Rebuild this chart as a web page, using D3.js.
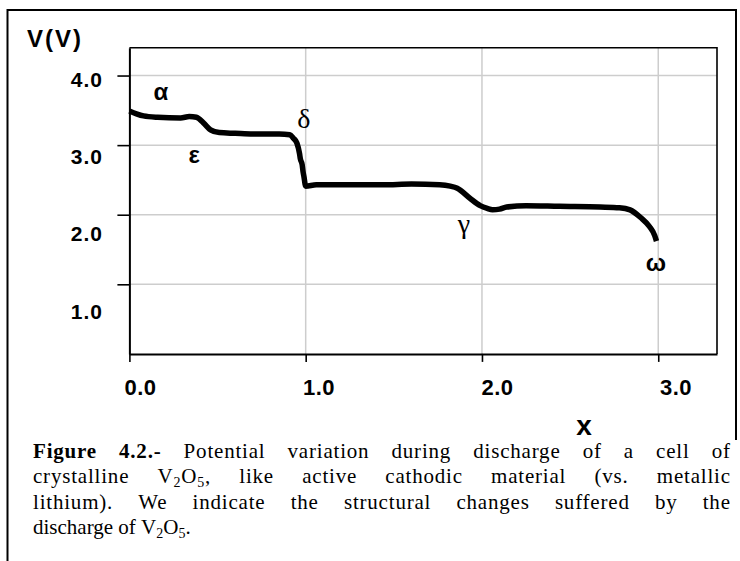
<!DOCTYPE html>
<html>
<head>
<meta charset="utf-8">
<script src="https://cdn.jsdelivr.net/npm/d3@7"></script>
<style>
  body { margin: 0; background: #fff; }
  svg { display: block; }
</style>
</head>
<body>
<svg id="chart" width="740" height="561"></svg>
<script>
// Discharge curve of crystalline V2O5 vs. Li: lithium content x and cell voltage (V)
const lithiumX = [0, 0.04, 0.08, 0.16, 0.29, 0.34, 0.38, 0.42, 0.46, 0.51, 0.6, 0.7, 0.85, 0.91,
  0.93, 0.95, 0.965, 0.97, 0.98, 0.985, 0.99, 1.0, 1.06, 1.2, 1.44, 1.6, 1.76, 1.82, 1.86, 1.93,
  1.99, 2.03, 2.06, 2.1, 2.14, 2.25, 2.44, 2.67, 2.78, 2.84, 2.9, 2.95, 2.98, 2.99];
const voltage = [3.49, 3.45, 3.42, 3.40, 3.39, 3.41, 3.40, 3.32, 3.22, 3.18, 3.17, 3.16, 3.16, 3.15,
  3.10, 3.03, 2.88, 2.80, 2.72, 2.62, 2.55, 2.41, 2.43, 2.43, 2.43, 2.44, 2.43, 2.41, 2.38, 2.24,
  2.13, 2.09, 2.07, 2.08, 2.11, 2.13, 2.12, 2.11, 2.10, 2.07, 1.96, 1.83, 1.70, 1.62];

const xTicks = [0, 1, 2, 3];
const yTicks = [1, 2, 3, 4];
const xTickLabels = ["0.0", "1.0", "2.0", "3.0"];
const yTickLabels = ["1.0", "2.0", "3.0", "4.0"];

// Structural phases and where their symbols sit (data units)
const phaseNames = ["α", "ε", "δ", "γ", "ω"];
const phaseAtX = [0.179, 0.368, 0.990, 1.898, 2.987];
const phaseAtV = [3.648, 2.738, 3.241, 1.737, 1.195];

const captionLines = [
  "Figure 4.2.- Potential variation during discharge of a cell of",
  "crystalline V_2O_5, like active cathodic material (vs. metallic",
  "lithium). We indicate the structural changes suffered by the",
  "discharge of V_2O_5."
];

const SANS = "'Liberation Sans', Arial, Helvetica, sans-serif";
const SERIF = "'Liberation Serif', 'Times New Roman', Times, serif";

const svg = d3.select("#chart");

// Outer figure frame (open at the lower right)
svg.append("path")
  .attr("d", "M736,440V10H7.5V561")
  .attr("fill", "none").attr("stroke", "#000").attr("stroke-width", 2);

const plot = { left: 129.4, right: 717, top: 47.7, bottom: 353.9 };
const x = d3.scaleLinear().domain([0, 3.3333]).range([plot.left, plot.right]);
const y = d3.scaleLinear().domain([0, 4.4]).range([plot.bottom, plot.top]);

// Tick labels are set on their own slightly wider spacing
const xLabelPos = d3.scaleLinear().domain([0, 3]).range([140.5, 676]);
const yLabelPos = d3.scaleLinear().domain([1, 4]).range([311, 79]);

// Grid
svg.append("g").selectAll("line").data(yTicks).join("line")
  .attr("x1", plot.left).attr("x2", plot.right)
  .attr("y1", d => y(d)).attr("y2", d => y(d))
  .attr("stroke", "#cdcdcd").attr("stroke-width", 1.5);
svg.append("g").selectAll("line").data(xTicks.filter(d => d > 0)).join("line")
  .attr("x1", d => x(d)).attr("x2", d => x(d))
  .attr("y1", plot.top).attr("y2", plot.bottom)
  .attr("stroke", "#cdcdcd").attr("stroke-width", 1.5);

// Plot box top and right edges
svg.append("path")
  .attr("d", `M${plot.left},${plot.top}H${plot.right}V${plot.bottom}`)
  .attr("fill", "none").attr("stroke", "#000").attr("stroke-width", 1.6);

// Discharge curve
const pts = lithiumX.map((v, i) => [v, voltage[i]]);
svg.append("path")
  .datum(pts)
  .attr("d", d3.line().x(d => x(d[0])).y(d => y(d[1])).curve(d3.curveMonotoneX))
  .attr("fill", "none").attr("stroke", "#000").attr("stroke-width", 5.5)
  .attr("stroke-linejoin", "round");

// Axes
const yAxis = svg.append("g").attr("transform", `translate(${plot.left},0)`)
  .call(d3.axisLeft(y).tickValues(yTicks).tickSize(12).tickSizeOuter(0).tickFormat(""));
const xAxis = svg.append("g").attr("transform", `translate(0,${plot.bottom})`)
  .call(d3.axisBottom(x).tickValues(xTicks).tickSize(8).tickSizeOuter(0).tickFormat(""));
[yAxis, xAxis].forEach(a => {
  a.select(".domain").attr("stroke", "#000").attr("stroke-width", 2);
  a.selectAll(".tick line").attr("stroke", "#000").attr("stroke-width", 1.6);
});

// Tick labels
svg.append("g").selectAll("text").data(yTicks).join("text")
  .attr("x", 103).attr("y", d => yLabelPos(d)).attr("dy", "0.36em")
  .attr("text-anchor", "end")
  .attr("font-family", SANS).attr("font-weight", "bold").attr("font-size", 21)
  .attr("letter-spacing", 1)
  .text((d, i) => yTickLabels[i]);
svg.append("g").selectAll("text").data(xTicks).join("text")
  .attr("x", d => xLabelPos(d)).attr("y", 395)
  .attr("text-anchor", "middle")
  .attr("font-family", SANS).attr("font-weight", "bold").attr("font-size", 22)
  .attr("letter-spacing", 0.5)
  .text((d, i) => xTickLabels[i]);

// Axis titles
svg.append("text").attr("x", 27).attr("y", 47)
  .attr("font-family", SANS).attr("font-weight", "bold").attr("font-size", 24)
  .attr("letter-spacing", 2).text("V(V)");
svg.append("text").attr("x", 584).attr("y", 435).attr("text-anchor", "middle")
  .attr("font-family", SANS).attr("font-weight", "bold").attr("font-size", 28).text("x");

// Phase symbols
const serifPhase = new Set(["δ", "γ"]);
svg.append("g").selectAll("text").data(phaseNames).join("text")
  .attr("x", (d, i) => x(phaseAtX[i])).attr("y", (d, i) => y(phaseAtV[i]))
  .attr("text-anchor", "middle")
  .attr("font-family", d => serifPhase.has(d) ? SERIF : SANS)
  .attr("font-weight", d => serifPhase.has(d) ? "normal" : "bold")
  .attr("font-size", d => serifPhase.has(d) ? 28 : 24)
  .text(d => d);

// Caption: justified lines get slight tracking plus stretched word gaps; last line is ragged
const capLeft = 33, capRight = 730, capSize = 21, subSize = 14, subShift = 4, tracking = 0.8;
const capBase = [457.5, 483, 508.5, 534];
captionLines.forEach((line, li) => {
  const words = line.split(" ");
  const last = li === captionLines.length - 1;
  const ls = last ? 0 : tracking;
  const g = svg.append("g");
  const nodes = words.map((w, wi) => {
    const t = g.append("text").attr("y", capBase[li])
      .attr("font-family", SERIF).attr("font-size", capSize)
      .attr("letter-spacing", ls)
      .attr("font-weight", li === 0 && wi < 2 ? "bold" : "normal");
    let shifted = false;
    w.split(/(_\d)/).filter(s => s.length).forEach(s => {
      if (s[0] === "_") {
        t.append("tspan").attr("font-size", subSize).attr("dy", shifted ? 0 : subShift).text(s.slice(1));
        shifted = true;
      } else {
        t.append("tspan").attr("dy", shifted ? -subShift : 0).text(s);
        shifted = false;
      }
    });
    return t;
  });
  const widths = nodes.map(n => n.node().getComputedTextLength() - ls);
  const total = d3.sum(widths);
  const gap = last ? capSize * 0.25 : (capRight - capLeft - total) / (words.length - 1);
  let cx = capLeft;
  nodes.forEach((n, i) => { n.attr("x", cx); cx += widths[i] + gap; });
});
</script>
</body>
</html>
